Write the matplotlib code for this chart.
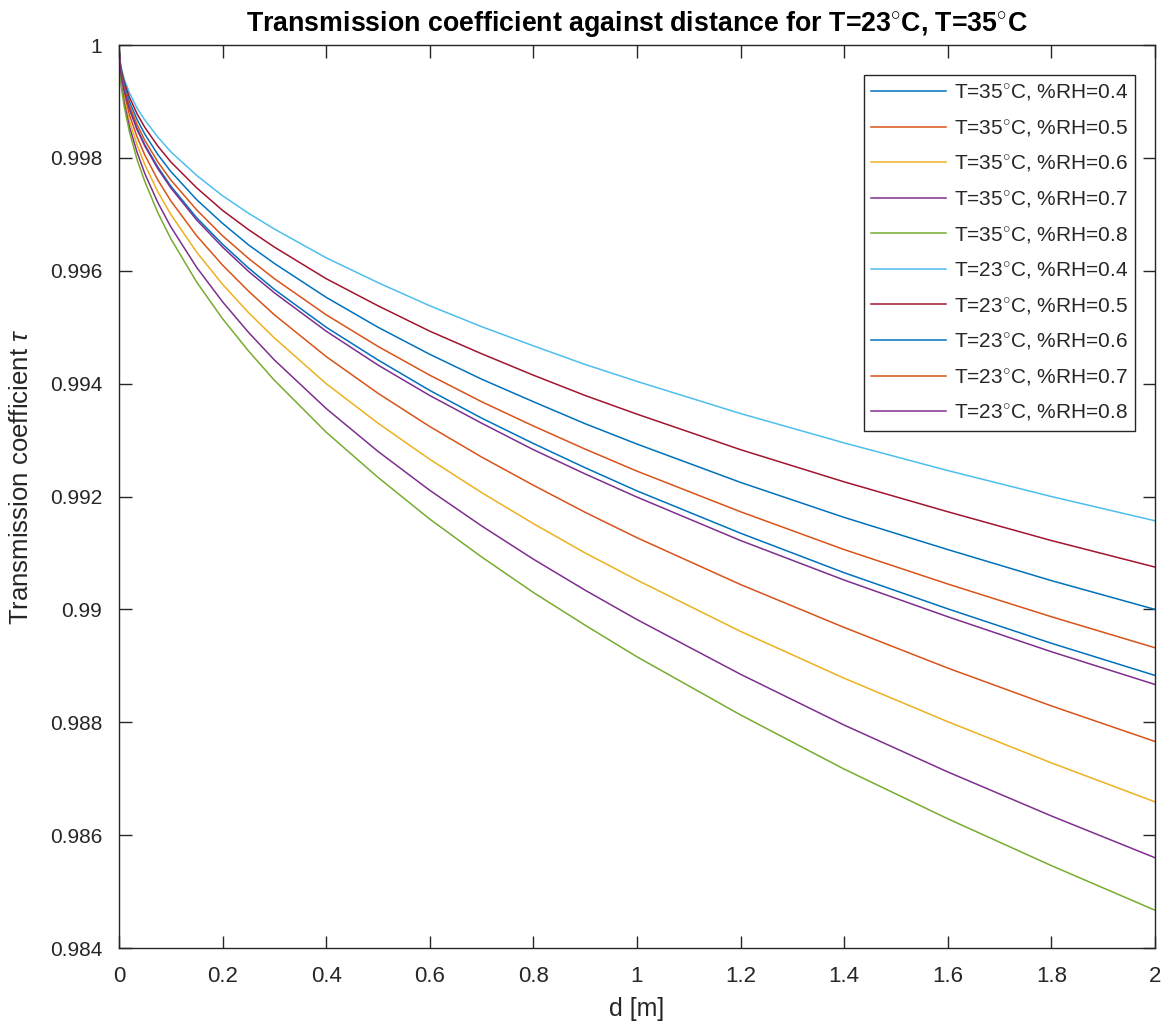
import matplotlib
matplotlib.use("Agg")
import matplotlib.pyplot as plt

# distance samples [m]
d = [0, 0.002, 0.005, 0.01, 0.02, 0.035, 0.05, 0.075, 0.1, 0.15, 0.2, 0.25, 0.3,
     0.4, 0.5, 0.6, 0.7, 0.8, 0.9, 1.0, 1.2, 1.4, 1.6, 1.8, 2.0]

# transmission coefficient
t35_rh04 = [1.00000, 0.99965, 0.99944, 0.99921, 0.99888, 0.99852, 0.99823, 0.99784, 0.99750, 0.99694, 0.99647, 0.99605, 0.99567,
            0.99500, 0.99442, 0.99388, 0.99339, 0.99294, 0.99251, 0.99210, 0.99135, 0.99065, 0.99001, 0.98940, 0.98883]
t35_rh05 = [1.00000, 0.99961, 0.99938, 0.99913, 0.99877, 0.99837, 0.99805, 0.99761, 0.99724, 0.99662, 0.99610, 0.99564, 0.99522,
            0.99448, 0.99383, 0.99324, 0.99270, 0.99220, 0.99172, 0.99127, 0.99044, 0.98968, 0.98896, 0.98829, 0.98766]
t35_rh06 = [1.00000, 0.99958, 0.99933, 0.99905, 0.99866, 0.99823, 0.99788, 0.99740, 0.99700, 0.99633, 0.99576, 0.99526, 0.99481,
            0.99400, 0.99330, 0.99266, 0.99207, 0.99152, 0.99100, 0.99052, 0.98961, 0.98878, 0.98801, 0.98728, 0.98659]
t35_rh07 = [1.00000, 0.99954, 0.99928, 0.99898, 0.99856, 0.99810, 0.99772, 0.99721, 0.99678, 0.99606, 0.99545, 0.99491, 0.99442,
            0.99356, 0.99280, 0.99211, 0.99148, 0.99089, 0.99034, 0.98982, 0.98885, 0.98795, 0.98712, 0.98634, 0.98560]
t35_rh08 = [1.00000, 0.99952, 0.99923, 0.99892, 0.99847, 0.99797, 0.99758, 0.99703, 0.99657, 0.99580, 0.99515, 0.99458, 0.99406,
            0.99314, 0.99234, 0.99160, 0.99093, 0.99030, 0.98972, 0.98916, 0.98813, 0.98717, 0.98629, 0.98546, 0.98467]
t23_rh04 = [1.00000, 0.99973, 0.99958, 0.99940, 0.99916, 0.99888, 0.99867, 0.99837, 0.99811, 0.99769, 0.99733, 0.99702, 0.99674,
            0.99623, 0.99579, 0.99538, 0.99501, 0.99467, 0.99434, 0.99404, 0.99347, 0.99295, 0.99246, 0.99200, 0.99157]
t23_rh05 = [1.00000, 0.99971, 0.99954, 0.99935, 0.99908, 0.99878, 0.99854, 0.99821, 0.99793, 0.99747, 0.99707, 0.99673, 0.99642,
            0.99586, 0.99538, 0.99493, 0.99453, 0.99415, 0.99379, 0.99346, 0.99283, 0.99226, 0.99173, 0.99122, 0.99075]
t23_rh06 = [1.00000, 0.99968, 0.99950, 0.99929, 0.99900, 0.99868, 0.99842, 0.99806, 0.99776, 0.99726, 0.99684, 0.99646, 0.99613,
            0.99553, 0.99500, 0.99452, 0.99408, 0.99368, 0.99329, 0.99293, 0.99225, 0.99163, 0.99106, 0.99051, 0.99000]
t23_rh07 = [1.00000, 0.99966, 0.99947, 0.99924, 0.99893, 0.99859, 0.99831, 0.99793, 0.99761, 0.99708, 0.99662, 0.99622, 0.99586,
            0.99522, 0.99466, 0.99415, 0.99368, 0.99325, 0.99284, 0.99245, 0.99173, 0.99106, 0.99045, 0.98987, 0.98932]
t23_rh08 = [1.00000, 0.99964, 0.99943, 0.99920, 0.99887, 0.99850, 0.99821, 0.99781, 0.99747, 0.99690, 0.99642, 0.99599, 0.99561,
            0.99493, 0.99433, 0.99379, 0.99330, 0.99283, 0.99240, 0.99199, 0.99122, 0.99052, 0.98987, 0.98925, 0.98867]

series = [t35_rh04, t35_rh05, t35_rh06, t35_rh07, t35_rh08,
          t23_rh04, t23_rh05, t23_rh06, t23_rh07, t23_rh08]
labels = [r"T=35$^{\circ}$C, %RH=0.4", r"T=35$^{\circ}$C, %RH=0.5", r"T=35$^{\circ}$C, %RH=0.6",
          r"T=35$^{\circ}$C, %RH=0.7", r"T=35$^{\circ}$C, %RH=0.8", r"T=23$^{\circ}$C, %RH=0.4",
          r"T=23$^{\circ}$C, %RH=0.5", r"T=23$^{\circ}$C, %RH=0.6", r"T=23$^{\circ}$C, %RH=0.7",
          r"T=23$^{\circ}$C, %RH=0.8"]
colors = ["#0072BD", "#D95319", "#EDB120", "#7E2F8E", "#77AC30",
          "#4DBEEE", "#A2142F", "#0072BD", "#D95319", "#7E2F8E"]

xticks = [0, 0.2, 0.4, 0.6, 0.8, 1, 1.2, 1.4, 1.6, 1.8, 2]
xticklabels = ["0", "0.2", "0.4", "0.6", "0.8", "1", "1.2", "1.4", "1.6", "1.8", "2"]
yticks = [0.984, 0.986, 0.988, 0.99, 0.992, 0.994, 0.996, 0.998, 1]
yticklabels = ["0.984", "0.986", "0.988", "0.99", "0.992", "0.994", "0.996", "0.998", "1"]

plt.rcParams["font.family"] = ["Liberation Sans", "DejaVu Sans"]
plt.rcParams["mathtext.fontset"] = "custom"
plt.rcParams["mathtext.rm"] = "Liberation Sans"
plt.rcParams["mathtext.it"] = "Liberation Sans:italic"

fig = plt.figure(figsize=(11.65, 10.28), dpi=100)
ax = fig.add_axes([0.1021, 0.0778, 0.8893, 0.8784])

for ys, lab, c in zip(series, labels, colors):
    ax.plot(d, ys, color=c, lw=1.1, label=lab)

ax.set_xlim(0, 2)
ax.set_ylim(0.984, 1)
ax.set_xticks(xticks)
ax.set_xticklabels(xticklabels, fontsize=16)
ax.set_yticks(yticks)
ax.set_yticklabels(yticklabels, fontsize=15)

dark = "#262626"
ax.tick_params(direction="in", length=9, width=1, top=True, right=True, colors=dark)
ax.tick_params(axis="x", pad=13)
ax.tick_params(axis="y", pad=12)
for s in ax.spines.values():
    s.set_color(dark)
    s.set_linewidth(1)

ax.set_title(r"Transmission coefficient against distance for T=23$^{\circ}$C, T=35$^{\circ}$C",
             fontsize=19.3, fontweight="bold", color="black", pad=10)
ax.set_xlabel("d [m]", fontsize=18, color=dark)
ax.xaxis.set_label_coords(0.5, -0.054)
ax.set_ylabel(r"Transmission coefficient $\tau$", fontsize=18.5, color=dark)
ax.yaxis.set_label_coords(-0.083, 0.5216)

leg = ax.legend(loc="upper right", bbox_to_anchor=(0.9807, 0.9668), fontsize=15,
                frameon=True, fancybox=False, edgecolor=dark, framealpha=1,
                handlelength=3.6, handletextpad=0.35, labelspacing=0.7,
                borderpad=0.35, borderaxespad=0)
leg.get_frame().set_linewidth(1)
for t in leg.get_texts():
    t.set_color(dark)

fig.savefig("out.png", dpi=100)
